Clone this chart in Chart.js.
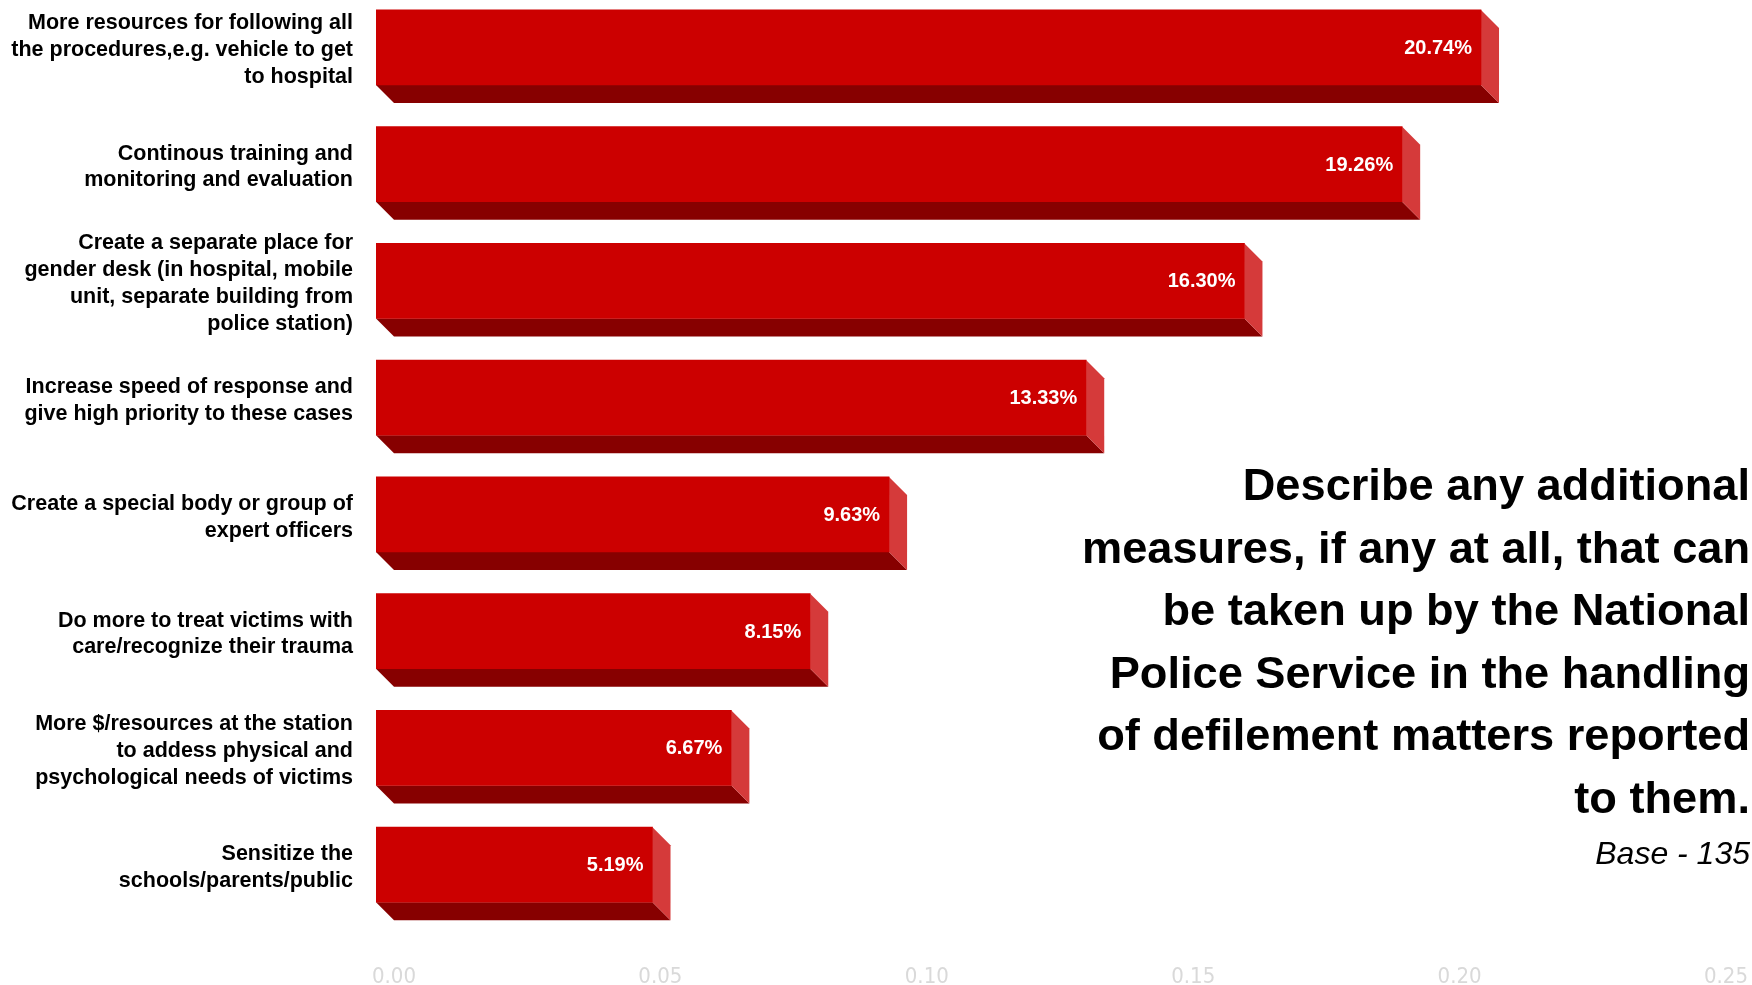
<!DOCTYPE html>
<html>
<head>
<meta charset="utf-8">
<script src="https://cdn.jsdelivr.net/npm/chart.js@4"></script>
<style>
  html, body { margin: 0; padding: 0; background: #fff; overflow: hidden; }
  #wrap { position: relative; width: 1752px; height: 985px; overflow: hidden; }
  #chart { position: absolute; left: 0; top: -11px; }
  #title {
    position: absolute; right: 2px; top: 454px;
    font-family: 'Liberation Sans', Arial, sans-serif; font-weight: bold;
    font-size: 45.2px; line-height: 62.6px; text-align: right; color: #000;
  }
  #base {
    position: absolute; right: 2px; top: 833px;
    font-family: 'Liberation Sans', Arial, sans-serif; font-style: italic;
    font-size: 32px; line-height: 40px; text-align: right; color: #000;
  }
</style>
</head>
<body>
<div id="wrap">
  <canvas id="chart" width="1752" height="1010"></canvas>
  <div id="title">Describe any additional<br>measures, if any at all, that can<br>be taken up by the National<br>Police Service in the handling<br>of defilement matters reported<br>to them.</div>
  <div id="base">Base - 135</div>
</div>
<script>
// categories (one label per bar, already split into lines)
const categories = [
  ['More resources for following all', 'the procedures,e.g. vehicle to get', 'to hospital'],
  ['Continous training and', 'monitoring and evaluation'],
  ['Create a separate place for', 'gender desk (in hospital, mobile', 'unit, separate building from', 'police station)'],
  ['Increase speed of response and', 'give high priority to these cases'],
  ['Create a special body or group of', 'expert officers'],
  ['Do more to treat victims with', 'care/recognize their trauma'],
  ['More $/resources at the station', 'to addess physical and', 'psychological needs of victims'],
  ['Sensitize the', 'schools/parents/public']
];
const shares = [0.2074, 0.1926, 0.1630, 0.1333, 0.0963, 0.0815, 0.0667, 0.0519];
const tickValues = [0, 0.05, 0.10, 0.15, 0.20, 0.25];

const DEPTH = 18;

// fake 3d: bottom and right faces behind the front face
const extrude = {
  id: 'extrude',
  beforeDatasetsDraw(chart) {
    const ctx = chart.ctx;
    chart.getDatasetMeta(0).data.forEach(bar => {
      const x0 = bar.base, x1 = bar.x;
      const yt = bar.y - bar.height / 2, yb = bar.y + bar.height / 2;
      ctx.save();
      ctx.fillStyle = '#870000';
      ctx.beginPath();
      ctx.moveTo(x0, yb); ctx.lineTo(x1, yb);
      ctx.lineTo(x1 + DEPTH, yb + DEPTH); ctx.lineTo(x0 + DEPTH, yb + DEPTH);
      ctx.closePath(); ctx.fill();
      ctx.fillStyle = '#d53a3a';
      ctx.beginPath();
      ctx.moveTo(x1, yt); ctx.lineTo(x1 + DEPTH, yt + DEPTH);
      ctx.lineTo(x1 + DEPTH, yb + DEPTH); ctx.lineTo(x1, yb);
      ctx.closePath(); ctx.fill();
      ctx.restore();
    });
  },
  afterDatasetsDraw(chart) {
    const ctx = chart.ctx;
    const ds = chart.data.datasets[0];
    ctx.save();
    ctx.fillStyle = '#fff';
    ctx.font = 'bold 20px "Liberation Sans", Arial, sans-serif';
    ctx.textAlign = 'right';
    ctx.textBaseline = 'middle';
    chart.getDatasetMeta(0).data.forEach((bar, i) => {
      ctx.fillText((ds.data[i] * 100).toFixed(2) + '%', bar.x - 9, bar.y + 1);
    });
    ctx.restore();
  }
};

new Chart(document.getElementById('chart'), {
  type: 'bar',
  data: {
    labels: categories,
    datasets: [{
      data: shares,
      backgroundColor: '#cc0000',
      borderWidth: 0,
      barThickness: 75
    }]
  },
  options: {
    indexAxis: 'y',
    responsive: false,
    animation: false,
    layout: { padding: { top: 0, right: 44, bottom: 0, left: 0 } },
    plugins: { legend: { display: false }, tooltip: { enabled: false } },
    scales: {
      x: {
        min: 0, max: 0.25,
        grid: { display: false, drawTicks: false },
        border: { display: false },
        afterBuildTicks: s => { s.ticks = tickValues.map(v => ({ value: v })); },
        afterFit: s => { s.height = 76; s.paddingLeft = 0; s.paddingRight = 0; },
        ticks: {
          autoSkip: false, maxRotation: 0,
          labelOffset: DEPTH,
          padding: 41,
          color: '#d9d9d9',
          font: { family: '"Liberation Sans Narrow", "DejaVu Sans Condensed", sans-serif', size: 22 },
          callback: v => Number(v).toFixed(2)
        }
      },
      y: {
        grid: { display: false, drawTicks: false },
        border: { display: false },
        afterFit: s => { s.width = 376; s.paddingTop = 0; s.paddingBottom = 0; },
        ticks: {
          autoSkip: false,
          padding: 23,
          labelOffset: 3,
          color: '#000',
          font: { family: '"Liberation Sans", Arial, sans-serif', size: 21.5, weight: 'bold', lineHeight: 1.25 }
        }
      }
    }
  },
  plugins: [extrude]
});
</script>
</body>
</html>
